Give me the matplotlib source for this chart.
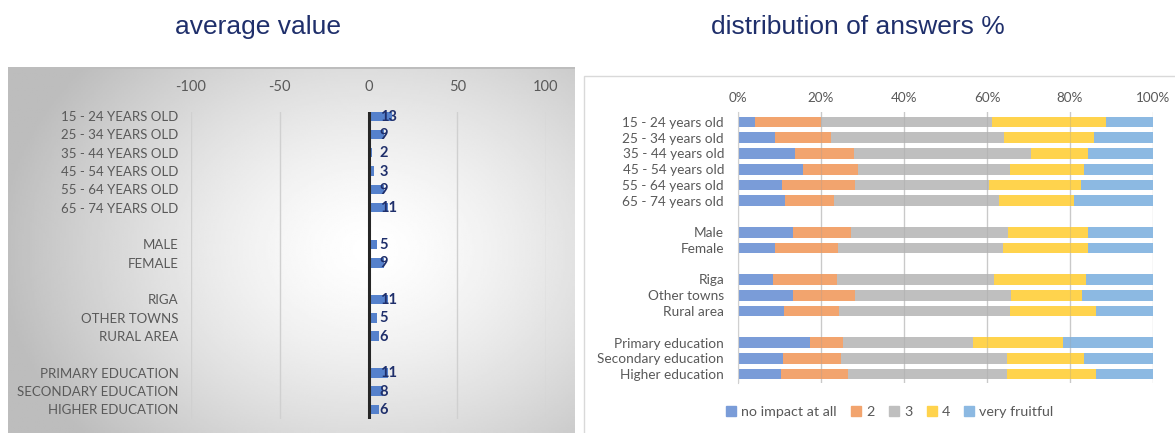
import numpy as np
import matplotlib
matplotlib.use("Agg")
import matplotlib.pyplot as plt
from matplotlib.patches import Rectangle
from matplotlib.lines import Line2D

plt.rcParams["axes.unicode_minus"] = False

# Row labels, None marks an empty spacer row between groups
left_labels = ["15 - 24 YEARS OLD", "25 - 34 YEARS OLD", "35 - 44 YEARS OLD",
               "45 - 54 YEARS OLD", "55 - 64 YEARS OLD", "65 - 74 YEARS OLD", None,
               "MALE", "FEMALE", None,
               "RIGA", "OTHER TOWNS", "RURAL AREA", None,
               "PRIMARY EDUCATION", "SECONDARY EDUCATION", "HIGHER EDUCATION"]
right_labels = ["15 - 24 years old", "25 - 34 years old", "35 - 44 years old",
                "45 - 54 years old", "55 - 64 years old", "65 - 74 years old", None,
                "Male", "Female", None,
                "Riga", "Other towns", "Rural area", None,
                "Primary education", "Secondary education", "Higher education"]

avg_values = [13, 9, 2, 3, 9, 11, None, 5, 9, None, 11, 5, 6, None, 11, 8, 6]

answer_names = ["no impact at all", "2", "3", "4", "very fruitful"]
no_impact = [4.0, 8.8, 13.7, 15.6, 10.5, 11.3, None, 13.3, 8.8, None, 8.4, 13.3, 11.1, None, 17.3, 10.8, 10.3]
score_2 = [16.1, 13.7, 14.3, 13.2, 17.7, 11.8, None, 13.9, 15.2, None, 15.5, 14.8, 13.3, None, 7.9, 14.0, 16.2]
score_3 = [41.1, 41.6, 42.7, 36.7, 32.3, 39.9, None, 37.8, 39.8, None, 37.8, 37.7, 41.1, None, 31.4, 40.0, 38.3]
score_4 = [27.5, 21.8, 13.6, 17.8, 22.2, 17.9, None, 19.3, 20.5, None, 22.2, 17.1, 20.8, None, 21.8, 18.5, 21.5]
very_fruitful = [11.3, 14.1, 15.7, 16.7, 17.3, 19.1, None, 15.7, 15.7, None, 16.1, 17.1, 13.7, None, 21.6, 16.7, 13.7]

answer_colors = ["#7a9cd8", "#f2a46e", "#bfbfbf", "#ffd34d", "#8cb9e2"]

TITLE_COLOR = "#1f2f6b"
LABEL_COLOR = "#595959"
W, H = 1175, 433

rows = [i for i, lab in enumerate(left_labels) if lab is not None]

fig = plt.figure(figsize=(W / 100, H / 100), dpi=100)
title_font = ["Liberation Sans Narrow", "Liberation Sans", "DejaVu Sans"]
label_font = ["Lato", "DejaVu Sans"]

# grey radial background behind the left chart
bg = fig.add_axes([8 / W, 0, 567 / W, (H - 67) / H])
gx, gy = np.meshgrid(np.linspace(8, 575, 300), np.linspace(67, 433, 200))
r = np.hypot((gx - 370) / 330, (gy - 250) / 260)
shade = np.clip(1 - 0.22 * r ** 1.4, 0.74, 1)
bg.imshow(shade, cmap="gray", vmin=0, vmax=1, aspect="auto",
          extent=(8, 575, 433, 67))
bg.add_patch(Rectangle((8, 67), 567, 2, color="#bdbdbd", lw=0))
bg.set_xlim(8, 575)
bg.set_ylim(433, 67)
bg.axis("off")

# thin frame around the right chart
fig.patches.append(Rectangle((584 / W, -0.1), 600 / W, (H - 76) / H + 0.1,
                             transform=fig.transFigure, fill=False,
                             edgecolor="#d9d9d9", lw=1))

fig.text(258 / W, 1 - 27 / H, "average value", ha="center", va="center",
         fontsize=19, color=TITLE_COLOR, family=title_font)
fig.text(858 / W, 1 - 27 / H, "distribution of answers %", ha="center", va="center",
         fontsize=19, color=TITLE_COLOR, family=title_font)

# ---- left: average value ----
ax1 = fig.add_axes([191 / W, (H - 419) / H, 355 / W, 307 / H])
ax1.patch.set_alpha(0)
vals = [avg_values[i] for i in rows]
ax1.barh(rows, vals, height=0.52, color="#5581cc", zorder=2)
for y, v in zip(rows, vals):
    ax1.annotate(str(v), (0, y), xytext=(8, -0.5), textcoords="offset points",
                 ha="left", va="center", fontsize=10.5, fontweight="bold",
                 color="#1f2f6b", family=label_font, zorder=3)
ax1.axvline(0, color="#262626", lw=2.2, zorder=3)
ax1.set_xlim(-100, 100)
ax1.set_ylim(16.52, -0.22)
ax1.set_xticks([-100, -50, 0, 50, 100])
ax1.xaxis.tick_top()
ax1.set_yticks(rows)
ax1.set_yticklabels([left_labels[i] for i in rows])
ax1.tick_params(axis="x", length=0, pad=13, labelsize=10.5, labelcolor=LABEL_COLOR)
ax1.tick_params(axis="y", length=0, pad=9, labelsize=9.5, labelcolor=LABEL_COLOR)
for t in ax1.get_xticklabels() + ax1.get_yticklabels():
    t.set_family(label_font)
ax1.grid(axis="x", color="#d0d0d0", lw=1, zorder=1)
ax1.grid(axis="y", visible=False)
for s in ax1.spines.values():
    s.set_visible(False)

# ---- right: distribution of answers ----
ax2 = fig.add_axes([738 / W, (H - 383) / H, 415 / W, 271 / H])
series = [no_impact, score_2, score_3, score_4, very_fruitful]
left = np.zeros(len(rows))
for name, data, col in zip(answer_names, series, answer_colors):
    seg = np.array([data[i] for i in rows])
    ax2.barh(rows, seg, left=left, height=0.68, color=col, label=name, zorder=2)
    left += seg
ax2.set_xlim(0, 100)
ax2.set_ylim(16.57, -0.63)
ax2.set_xticks([0, 20, 40, 60, 80, 100])
ax2.set_xticklabels([f"{t}%" for t in range(0, 101, 20)])
ax2.xaxis.tick_top()
ax2.set_yticks(rows)
ax2.set_yticklabels([right_labels[i] for i in rows])
ax2.tick_params(axis="x", length=0, pad=6, labelsize=9.7, labelcolor=LABEL_COLOR)
ax2.tick_params(axis="y", length=0, pad=10, labelsize=9.8, labelcolor=LABEL_COLOR)
for t in ax2.get_xticklabels() + ax2.get_yticklabels():
    t.set_family(label_font)
ax2.grid(axis="x", color="#d9d9d9", lw=1, zorder=1)
ax2.grid(axis="y", visible=False)
for x in [20, 40, 60, 80]:
    ax2.axvline(x, color="#9a9a9a", lw=0.8, alpha=0.25, zorder=3)
for s in ["top", "right", "bottom"]:
    ax2.spines[s].set_visible(False)
ax2.spines["left"].set_color("#d0d0d0")

handles = [Line2D([], [], marker="s", ls="", markersize=7, color=c) for c in answer_colors]
fig.legend(handles, answer_names, loc="center", bbox_to_anchor=(890 / W, 1 - 412 / H),
           ncol=5, frameon=False, handlelength=0.7, handletextpad=0.35,
           columnspacing=1.0, labelcolor=LABEL_COLOR,
           prop={"family": label_font, "size": 10.3})

fig.savefig("out.png", dpi=100)
